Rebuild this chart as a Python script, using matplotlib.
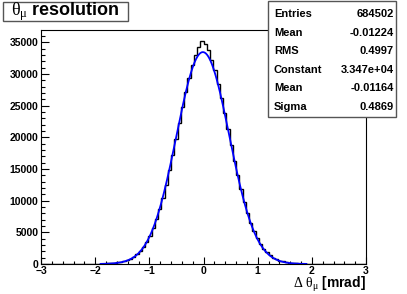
"""
Theta_mu resolution histogram with gaussian fit, ROOT-like style.
"""
import matplotlib
matplotlib.use("Agg")
import matplotlib.pyplot as plt
from matplotlib.ticker import MultipleLocator
import numpy as np

plt.rcParams['font.family'] = ['Liberation Sans', 'DejaVu Sans']
plt.rcParams['mathtext.fontset'] = 'custom'
plt.rcParams['mathtext.rm'] = 'Liberation Serif'
plt.rcParams['mathtext.it'] = 'Liberation Serif'

# bin range of the histogram: 100 bins from -3 to 3 mrad
x_min, x_max, n_bins = -3.0, 3.0, 100

# counts per bin (left to right)
counts_left = [1, 1, 1, 1, 1, 2, 2, 3, 3, 4,
               5, 6, 8, 10, 13, 18, 24, 33, 45, 63,
               88, 123, 172, 240, 335, 460, 630, 860, 1170, 1560,
               2060, 2700, 3500, 4480, 5650, 7050, 8650, 10500, 12500, 14800,
               17200, 19700, 22300, 24800, 27200, 29400, 31500, 33000, 34300, 35200]
counts_right = [34800, 33800, 32300, 30600, 28500, 26200, 23800, 21300, 18800, 16300,
                14000, 11800, 9800, 8050, 6500, 5180, 4080, 3170, 2430, 1840,
                1380, 1020, 750, 545, 395, 285, 205, 146, 104, 74,
                53, 38, 28, 20, 15, 11, 8, 6, 5, 4,
                3, 2, 2, 2, 1, 1, 1, 1, 1, 0]
counts = np.array(counts_left + counts_right)

# statistics box contents
stat_names = ["Entries", "Mean", "RMS", "Constant", "Mean", "Sigma"]
stat_values = ["684502", "-0.01224", "0.4997", "3.347e+04", "-0.01164", "0.4869"]

# gaussian fit parameters and fit range
fit_const, fit_mean, fit_sigma = 3.347e4, -0.01164, 0.4869
fit_lo, fit_hi = -1.9, 1.9

W, H = 407, 294
fig = plt.figure(figsize=(W / 100, H / 100), dpi=100)
ax = fig.add_axes([41 / W, 30 / H, 325 / W, 234 / H])

edges = np.linspace(x_min, x_max, n_bins + 1)
ax.stairs(counts, edges, color='black', linewidth=1.0)

xf = np.linspace(fit_lo, fit_hi, 400)
yf = fit_const * np.exp(-0.5 * ((xf - fit_mean) / fit_sigma) ** 2)
ax.plot(xf, yf, color='#0000ff', linewidth=1.3)

ax.set_xlim(x_min, x_max)
ax.set_ylim(0, 1.05 * counts.max())

ax.xaxis.set_major_locator(MultipleLocator(1))
ax.xaxis.set_minor_locator(MultipleLocator(0.2))
ax.yaxis.set_major_locator(MultipleLocator(5000))
ax.yaxis.set_minor_locator(MultipleLocator(1000))
ax.tick_params(which='both', direction='in', top=False, right=False,
               labelsize=7.5, width=0.8)
ax.tick_params(axis='x', which='major', length=5, pad=1.5)
ax.tick_params(axis='x', which='minor', length=2.5)
ax.tick_params(axis='y', which='major', length=6, pad=2)
ax.tick_params(axis='y', which='minor', length=3)
for lbl in ax.get_xticklabels() + ax.get_yticklabels():
    lbl.set_fontweight('bold')
for sp in ax.spines.values():
    sp.set_linewidth(0.8)

# axis title, right aligned under the axis
fig.text(366 / W, 1 - 293.5 / H, r"$\Delta\ \theta_{\mu}$ [mrad]",
         ha='right', va='bottom', fontsize=10, fontweight='bold')

# title box
title_box = plt.Rectangle((3 / W, 1 - 21 / H), 125 / W, 19 / H,
                          transform=fig.transFigure, facecolor='white',
                          edgecolor='#555555', linewidth=1.0)
fig.add_artist(title_box)
fig.text(65.5 / W, 1 - 11.5 / H, r"$\theta_{\mu}$ resolution",
         ha='center', va='center', fontsize=13, fontweight='bold')

# statistics box
box = plt.Rectangle((268 / W, 1 - 117 / H), 128 / W, 116 / H,
                    transform=fig.transFigure, facecolor='white',
                    edgecolor='#555555', linewidth=1.0, zorder=5)
fig.add_artist(box)
for k, (name, val) in enumerate(zip(stat_names, stat_values)):
    y = 1 - (14 + 18.6 * k) / H
    fig.text(274 / W, y, name, ha='left', va='center', fontsize=8,
             fontweight='bold', zorder=6)
    fig.text(394 / W, y, val, ha='right', va='center', fontsize=8,
             fontweight='bold', zorder=6)

fig.savefig("out.png", dpi=100)
